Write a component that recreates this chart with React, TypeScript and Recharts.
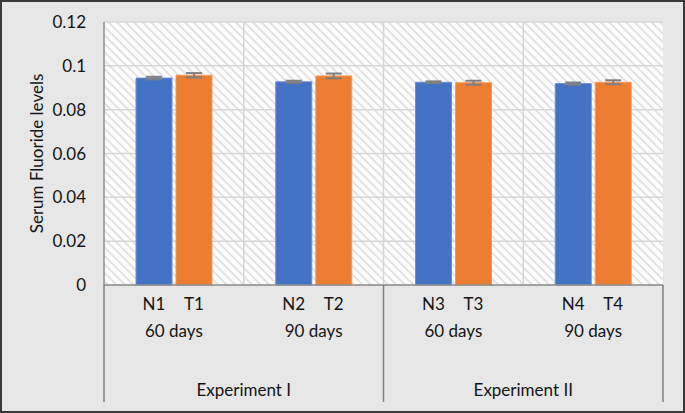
import React from "react";
import { BarChart, Bar, XAxis, YAxis, CartesianGrid, ErrorBar } from "recharts";

const periods = ["60 days", "90 days", "60 days", "90 days"];
const nLabels = ["N1", "N2", "N3", "N4"];
const tLabels = ["T1", "T2", "T3", "T4"];
const experiments = ["Experiment I", "Experiment II"];
const nValues = [0.0944, 0.0927, 0.0925, 0.0919];
const tValues = [0.0957, 0.0954, 0.0923, 0.0925];
const nErrors = [0.0006, 0.0005, 0.0004, 0.0005];
const tErrors = [0.001, 0.0011, 0.0009, 0.0009];
const yTicks = [0, 0.02, 0.04, 0.06, 0.08, 0.1, 0.12];

const data = periods.map((p, i) => ({
  key: i,
  period: p,
  n: nValues[i],
  t: tValues[i],
  nErr: nErrors[i],
  tErr: tErrors[i],
}));

const W = 685;
const H = 413;
const margin = { top: 22, right: 22, left: 44, bottom: 0 };
const yAxisWidth = 60;
const plotWidth = W - margin.left - margin.right - yAxisWidth;
const bandHalf = plotWidth / data.length / 2;
const barSize = 36;
const barGap = 4;
const font = "Lato, 'Open Sans', sans-serif";
const fontSize = 17;
const textColor = "#141414";
const dividerColor = "#7f7f7f";

function CategoryTick(props: any) {
  const { x, y, payload } = props;
  const i = payload.index ?? payload.value;
  const off = (barSize + barGap) / 2;
  // tick y sits tickSize + tickMargin below the axis line
  const top = y - 8;
  const bottom = top + 117;
  return (
    <g fontFamily={font} fontSize={fontSize} fill={textColor}>
      <text x={x - off} y={y + 17} textAnchor="middle" fill={textColor}>{nLabels[i]}</text>
      <text x={x + off} y={y + 17} textAnchor="middle" fill={textColor}>{tLabels[i]}</text>
      <text x={x} y={y + 44} textAnchor="middle" fill={textColor}>{periods[i]}</text>
      {i % 2 === 0 && (
        <>
          <line x1={x - bandHalf} x2={x - bandHalf} y1={top} y2={bottom} stroke={dividerColor} strokeWidth={1.5} />
          <text x={x + bandHalf} y={y + 103} textAnchor="middle" fill={textColor}>
            {experiments[i / 2]}
          </text>
        </>
      )}
      {i === data.length - 1 && (
        <line x1={x + bandHalf} x2={x + bandHalf} y1={top} y2={bottom} stroke={dividerColor} strokeWidth={1.5} />
      )}
    </g>
  );
}

function YLabel(props: any) {
  const vb = props.viewBox || {};
  const cx = vb.x - 8;
  const cy = vb.y + vb.height / 2;
  return (
    <text
      x={cx}
      y={cy}
      transform={`rotate(-90 ${cx} ${cy})`}
      textAnchor="middle"
      dominantBaseline="central"
      fontFamily={font}
      fontSize={fontSize}
      fill={textColor}
    >
      Serum Fluoride levels
    </text>
  );
}

export default function App() {
  return (
    <div style={{ position: "fixed", left: 0, top: 0, width: W, height: H, background: "#e7e7e7" }}>
      <BarChart
        width={W}
        height={H}
        data={data}
        margin={margin}
        barSize={barSize}
        barGap={barGap}
      >
        <defs>
          <pattern id="hatch" patternUnits="userSpaceOnUse" width="6" height="6" patternTransform="rotate(-45)">
            <rect width="6" height="6" fill="#ffffff" />
            <rect width="2" height="6" fill="#e2e2e2" />
          </pattern>
        </defs>
        <CartesianGrid
          fill="url(#hatch)"
          stroke="#d6d6d6"
          strokeWidth={1.5}
          verticalCoordinatesGenerator={({ offset }: any) =>
            [1, 2, 3].map((k) => offset.left + (offset.width * k) / data.length)
          }
        />
        <XAxis
          dataKey="key"
          type="category"
          height={128}
          tickLine={false}
          axisLine={{ stroke: "#8c8c8c", strokeWidth: 1.5 }}
          tick={<CategoryTick />}
          interval={0}
        />
        <YAxis
          width={yAxisWidth}
          domain={[0, 0.12]}
          ticks={yTicks}
          tickFormatter={(v: number) => String(v)}
          tickLine={false}
          tickMargin={12}
          axisLine={{ stroke: "#8c8c8c", strokeWidth: 1.5 }}
          tick={{ fontFamily: font, fontSize, fill: textColor }}
          label={{ content: YLabel }}
        />
        <Bar dataKey="n" fill="#4472C4" stroke="#6a8fd2" strokeWidth={1} isAnimationActive={false}>
          <ErrorBar dataKey="nErr" width={8} stroke="#7f7f7f" strokeWidth={2} />
        </Bar>
        <Bar dataKey="t" fill="#ED7D31" stroke="#f29a5e" strokeWidth={1} isAnimationActive={false}>
          <ErrorBar dataKey="tErr" width={8} stroke="#7f7f7f" strokeWidth={2} />
        </Bar>
      </BarChart>
      <div
        style={{
          position: "absolute",
          inset: 0,
          border: "2px solid #3a3a3a",
          pointerEvents: "none",
        }}
      />
    </div>
  );
}
